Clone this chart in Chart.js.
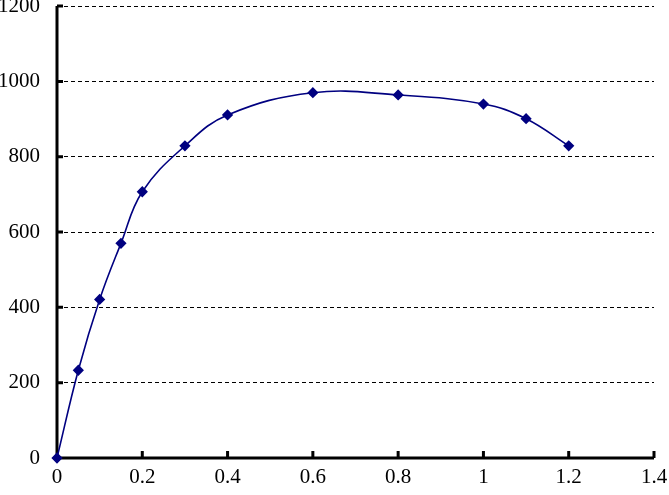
<!DOCTYPE html>
<html>
<head>
<meta charset="utf-8">
<script src="https://cdn.jsdelivr.net/npm/chart.js@4/dist/chart.umd.min.js"></script>
<style>
  html, body { margin: 0; padding: 0; background: #fff; }
  #wrap { width: 669px; height: 495px; }
</style>
</head>
<body>
<div id="wrap"><canvas id="curve"></canvas></div>
<script>
// donnees
const xValues = [0, 0.05, 0.1, 0.15, 0.2, 0.3, 0.4, 0.6, 0.8, 1.0, 1.1, 1.2];
const yValues = [0, 233, 421, 570, 707, 829, 911, 970, 964, 940, 901, 829];
const xTicks = [0, 0.2, 0.4, 0.6, 0.8, 1, 1.2, 1.4];
const yTicks = [0, 200, 400, 600, 800, 1000, 1200];

const navy = '#000080';
const labelFont = { family: 'Liberation Serif', size: 21 };

// axes pleins + petites graduations vers l'interieur (sous la courbe)
const innerTicks = {
  id: 'innerTicks',
  beforeDatasetsDraw(chart) {
    const ctx = chart.ctx;
    const xs = chart.scales.x, ys = chart.scales.y;
    const area = chart.chartArea;
    ctx.save();
    ctx.strokeStyle = '#000';
    ctx.lineWidth = 3;
    ctx.setLineDash([]);
    ctx.beginPath();
    yTicks.forEach(v => {
      const py = ys.getPixelForValue(v);
      ctx.moveTo(area.left, py);
      ctx.lineTo(area.left + 6, py);
    });
    xTicks.forEach(v => {
      const px = xs.getPixelForValue(v);
      ctx.moveTo(px, area.bottom);
      ctx.lineTo(px, area.bottom - 7);
    });
    ctx.moveTo(area.left, area.top);
    ctx.lineTo(area.left, area.bottom);
    ctx.lineTo(area.right, area.bottom);
    ctx.stroke();
    ctx.restore();
  }
};

const points = xValues.map((x, i) => ({ x: x, y: yValues[i] }));

new Chart(document.getElementById('curve'), {
  type: 'line',
  data: {
    datasets: [{
      data: points,
      borderColor: navy,
      backgroundColor: navy,
      borderWidth: 1.6,
      pointStyle: 'rectRot',
      pointRadius: 4.5,
      pointBackgroundColor: navy,
      pointBorderColor: navy,
      tension: 0.4,
      fill: false,
      clip: false
    }]
  },
  options: {
    responsive: true,
    maintainAspectRatio: false,
    animation: false,
    layout: { padding: 0 },
    plugins: { legend: { display: false }, tooltip: { enabled: false } },
    scales: {
      x: {
        type: 'linear',
        min: 0,
        max: 1.4,
        afterBuildTicks: s => { s.ticks = xTicks.map(v => ({ value: v })); },
        afterFit: s => { s.height = 37; s.paddingRight = 15; s.paddingLeft = 0; },
        grid: { display: false, drawTicks: false },
        border: { display: false },
        ticks: { color: '#000', font: labelFont, padding: 7, maxRotation: 0, callback: v => String(v) }
      },
      y: {
        min: 0,
        max: 1200,
        afterBuildTicks: s => { s.ticks = yTicks.map(v => ({ value: v })); },
        afterFit: s => { s.width = 57; s.paddingTop = 5; s.paddingBottom = 0; },
        grid: { color: '#000', lineWidth: 1, drawTicks: false, tickLength: 0 },
        border: { display: false, dash: [4, 3] },
        ticks: { color: '#000', font: labelFont, padding: 17, callback: v => String(v) }
      }
    }
  },
  plugins: [innerTicks]
});
</script>
</body>
</html>
